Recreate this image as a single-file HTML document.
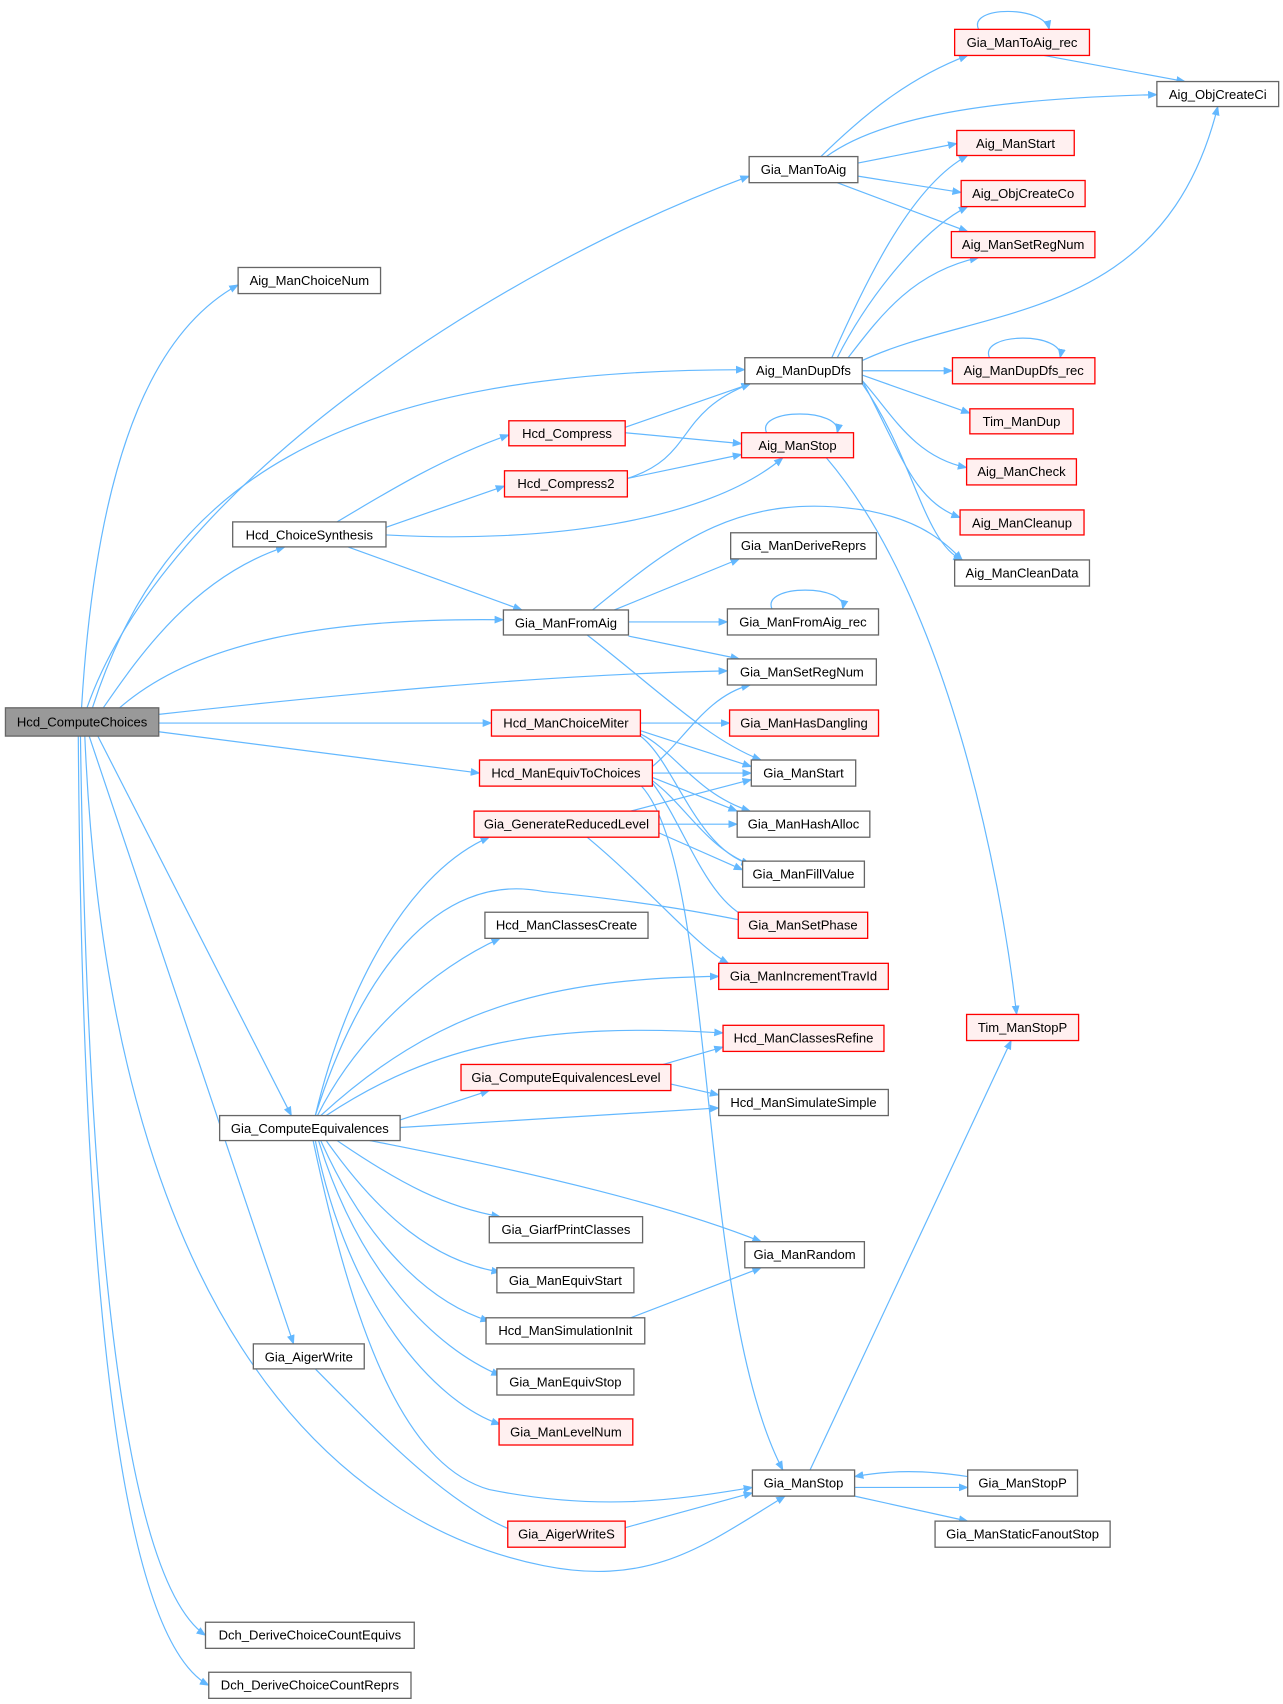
<!DOCTYPE html>
<html><head><meta charset="utf-8"><style>
html,body{margin:0;padding:0;background:#fff}
svg{display:block}
text{font-family:"Liberation Sans",Arial,sans-serif;font-size:12px;fill:#000}
.e{fill:none;stroke:#63b8ff;stroke-width:1.1}
.n{fill:#fff;stroke:#666;stroke-width:1.2}
.r{fill:#fff0f0;stroke:#ff0000;stroke-width:1.2}
</style></head><body>
<svg width="1283" height="1704" viewBox="0 0 1180 1567.2" xmlns="http://www.w3.org/2000/svg">
<defs><marker id="a" viewBox="0 0 10 10" refX="9" refY="5" markerWidth="9" markerHeight="9" orient="auto" markerUnits="userSpaceOnUse"><path d="M0,1 L10,5 L0,9 z" fill="#63b8ff"/></marker></defs>
<g marker-end="url(#a)">
<path class="e" d="M75,651 C90,400 150,300 219,262"/>
<path class="e" d="M80,651 C150,450 450,250 689,162"/>
<path class="e" d="M85,651 C150,450 300,340 685,340"/>
<path class="e" d="M95,651 C130,600 180,530 262,503"/>
<path class="e" d="M110,651 C180,590 300,568 463,570"/>
<path class="e" d="M146,657 C300,640 500,620 669,617"/>
<path class="e" d="M146,665 L452,665"/>
<path class="e" d="M146,673 L441,711"/>
<path class="e" d="M90,677 L268,1026"/>
<path class="e" d="M82,677 L270,1236"/>
<path class="e" d="M78,677 C100,1200 300,1400 500,1440 C600,1460 650,1420 722,1376"/>
<path class="e" d="M74,677 C80,1100 110,1450 189,1504"/>
<path class="e" d="M72,677 C75,1100 100,1500 192,1550"/>
<path class="e" d="M755,144 C800,100 840,70 890,51"/>
<path class="e" d="M760,144 C820,100 950,90 1064,87"/>
<path class="e" d="M789,150 L880,132"/>
<path class="e" d="M789,162 L884,177"/>
<path class="e" d="M770,168 L890,213"/>
<path class="e" d="M900,27 C890,5 960,5 965,27"/>
<path class="e" d="M960,51 L1090,75"/>
<path class="e" d="M765,329 C800,250 840,170 890,143"/>
<path class="e" d="M770,329 C800,270 850,210 890,190"/>
<path class="e" d="M780,329 C810,290 840,250 900,237"/>
<path class="e" d="M790,333 C900,280 1070,300 1120,98"/>
<path class="e" d="M793,341 L876,341"/>
<path class="e" d="M793,345 L892,380"/>
<path class="e" d="M793,350 C820,380 840,420 889,430"/>
<path class="e" d="M793,350 C830,420 840,460 883,476"/>
<path class="e" d="M793,353 C840,420 850,500 885,515"/>
<path class="e" d="M910,329 C900,305 980,305 975,329"/>
<path class="e" d="M575,393 L690,353"/>
<path class="e" d="M575,398 L682,408"/>
<path class="e" d="M577,440 C640,420 620,380 690,353"/>
<path class="e" d="M577,440 L682,418"/>
<path class="e" d="M705,398 C695,375 775,375 770,398"/>
<path class="e" d="M760,421 C870,550 920,800 935,933"/>
<path class="e" d="M310,480 C360,450 410,420 468,400"/>
<path class="e" d="M355,485 L464,447"/>
<path class="e" d="M355,492 C500,500 650,480 720,421"/>
<path class="e" d="M320,503 L480,561"/>
<path class="e" d="M545,561 C620,500 680,450 800,470 C850,480 870,500 885,515"/>
<path class="e" d="M565,561 L680,514"/>
<path class="e" d="M578,572 L669,572"/>
<path class="e" d="M578,585 L680,606"/>
<path class="e" d="M540,584 C600,630 650,680 700,699"/>
<path class="e" d="M710,560 C700,537 780,537 775,560"/>
<path class="e" d="M589,665 L671,665"/>
<path class="e" d="M589,672 L691,705"/>
<path class="e" d="M589,675 C620,690 640,730 690,746"/>
<path class="e" d="M589,677 C620,700 640,780 690,795"/>
<path class="e" d="M600,705 C630,680 650,640 690,630"/>
<path class="e" d="M600,711 L691,711"/>
<path class="e" d="M600,715 L678,746"/>
<path class="e" d="M600,718 C630,740 650,780 690,795"/>
<path class="e" d="M600,720 C630,760 650,830 690,845"/>
<path class="e" d="M590,723 C660,800 640,1200 720,1352"/>
<path class="e" d="M580,746 L691,717"/>
<path class="e" d="M606,758 L678,758"/>
<path class="e" d="M606,766 L683,800"/>
<path class="e" d="M540,770 C600,820 640,870 670,886"/>
<path class="e" d="M290,1026 C320,900 380,800 450,770"/>
<path class="e" d="M290,1026 C330,900 400,800 500,820 C600,830 650,840 690,848"/>
<path class="e" d="M292,1026 C330,950 400,890 460,863"/>
<path class="e" d="M295,1026 C400,930 500,900 661,898"/>
<path class="e" d="M300,1026 C400,960 500,940 665,950"/>
<path class="e" d="M368,1030 L450,1003"/>
<path class="e" d="M368,1037 L661,1019"/>
<path class="e" d="M610,979 L665,963"/>
<path class="e" d="M617,997 L661,1007"/>
<path class="e" d="M340,1049 C500,1080 620,1110 700,1142"/>
<path class="e" d="M310,1049 C370,1090 410,1110 460,1119"/>
<path class="e" d="M300,1049 C350,1120 400,1160 460,1170"/>
<path class="e" d="M295,1049 C340,1150 400,1200 450,1215"/>
<path class="e" d="M293,1049 C330,1170 400,1240 460,1265"/>
<path class="e" d="M290,1049 C320,1200 400,1290 460,1310"/>
<path class="e" d="M288,1049 C330,1250 380,1350 450,1370 C550,1390 620,1380 692,1368"/>
<path class="e" d="M580,1212 L700,1166"/>
<path class="e" d="M290,1259 C360,1330 420,1390 478,1410"/>
<path class="e" d="M575,1405 L692,1373"/>
<path class="e" d="M786,1368 L890,1368"/>
<path class="e" d="M890,1358 C850,1352 820,1352 786,1358"/>
<path class="e" d="M786,1376 L890,1399"/>
<path class="e" d="M745,1352 L930,957"/>
</g>
<g text-anchor="middle">
<rect x="5" y="651" width="141" height="26" fill="#999" stroke="#666" stroke-width="1.2"/><text x="75.5" y="668">Hcd_ComputeChoices</text>
<rect class="n" x="219" y="246" width="131" height="24"/><text x="284.5" y="262">Aig_ManChoiceNum</text>
<rect class="n" x="689" y="144" width="100" height="24"/><text x="739" y="160">Gia_ManToAig</text>
<rect class="r" x="878" y="27" width="124" height="24"/><text x="940" y="43">Gia_ManToAig_rec</text>
<rect class="n" x="1064" y="75" width="112" height="23"/><text x="1120" y="91">Aig_ObjCreateCi</text>
<rect class="r" x="880" y="120" width="108" height="23"/><text x="934" y="136">Aig_ManStart</text>
<rect class="r" x="884" y="166" width="114" height="24"/><text x="941" y="182">Aig_ObjCreateCo</text>
<rect class="r" x="875" y="213" width="132" height="24"/><text x="941" y="229">Aig_ManSetRegNum</text>
<rect class="n" x="685" y="329" width="108" height="24"/><text x="739" y="345">Aig_ManDupDfs</text>
<rect class="r" x="876" y="329" width="131" height="24"/><text x="941.5" y="345">Aig_ManDupDfs_rec</text>
<rect class="r" x="892" y="376" width="95" height="23"/><text x="939.5" y="392">Tim_ManDup</text>
<rect class="r" x="889" y="422" width="101" height="24"/><text x="939.5" y="438">Aig_ManCheck</text>
<rect class="r" x="883" y="469" width="114" height="23"/><text x="940" y="485">Aig_ManCleanup</text>
<rect class="n" x="878" y="515" width="124" height="24"/><text x="940" y="531">Aig_ManCleanData</text>
<rect class="r" x="468" y="387" width="107" height="23"/><text x="521.5" y="403">Hcd_Compress</text>
<rect class="r" x="464" y="433" width="113" height="24"/><text x="520.5" y="449">Hcd_Compress2</text>
<rect class="r" x="682" y="398" width="103" height="23"/><text x="733.5" y="414">Aig_ManStop</text>
<rect class="n" x="214" y="480" width="141" height="23"/><text x="284.5" y="496">Hcd_ChoiceSynthesis</text>
<rect class="n" x="672" y="490" width="134" height="24"/><text x="739" y="506">Gia_ManDeriveReprs</text>
<rect class="n" x="463" y="561" width="115" height="23"/><text x="520.5" y="577">Gia_ManFromAig</text>
<rect class="n" x="669" y="560" width="139" height="24"/><text x="738.5" y="576">Gia_ManFromAig_rec</text>
<rect class="n" x="669" y="606" width="137" height="24"/><text x="737.5" y="622">Gia_ManSetRegNum</text>
<rect class="r" x="452" y="653" width="137" height="24"/><text x="520.5" y="669">Hcd_ManChoiceMiter</text>
<rect class="r" x="671" y="653" width="137" height="24"/><text x="739.5" y="669">Gia_ManHasDangling</text>
<rect class="r" x="441" y="699" width="159" height="24"/><text x="520.5" y="715">Hcd_ManEquivToChoices</text>
<rect class="n" x="691" y="699" width="96" height="24"/><text x="739" y="715">Gia_ManStart</text>
<rect class="r" x="436" y="746" width="170" height="24"/><text x="521" y="762">Gia_GenerateReducedLevel</text>
<rect class="n" x="678" y="746" width="122" height="24"/><text x="739" y="762">Gia_ManHashAlloc</text>
<rect class="n" x="683" y="792" width="112" height="24"/><text x="739" y="808">Gia_ManFillValue</text>
<rect class="n" x="446" y="839" width="150" height="24"/><text x="521" y="855">Hcd_ManClassesCreate</text>
<rect class="r" x="679" y="839" width="119" height="24"/><text x="738.5" y="855">Gia_ManSetPhase</text>
<rect class="r" x="661" y="886" width="156" height="24"/><text x="739" y="902">Gia_ManIncrementTravId</text>
<rect class="r" x="889" y="933" width="103" height="24"/><text x="940.5" y="949">Tim_ManStopP</text>
<rect class="r" x="665" y="943" width="148" height="24"/><text x="739" y="959">Hcd_ManClassesRefine</text>
<rect class="r" x="424" y="979" width="193" height="24"/><text x="520.5" y="995">Gia_ComputeEquivalencesLevel</text>
<rect class="n" x="661" y="1002" width="156" height="24"/><text x="739" y="1018">Hcd_ManSimulateSimple</text>
<rect class="n" x="202" y="1026" width="166" height="23"/><text x="285" y="1042">Gia_ComputeEquivalences</text>
<rect class="n" x="450" y="1119" width="141" height="24"/><text x="520.5" y="1135">Gia_GiarfPrintClasses</text>
<rect class="n" x="685" y="1142" width="110" height="24"/><text x="740" y="1158">Gia_ManRandom</text>
<rect class="n" x="457" y="1166" width="126" height="23"/><text x="520" y="1182">Gia_ManEquivStart</text>
<rect class="n" x="447" y="1212" width="146" height="24"/><text x="520" y="1228">Hcd_ManSimulationInit</text>
<rect class="n" x="233" y="1236" width="102" height="23"/><text x="284" y="1252">Gia_AigerWrite</text>
<rect class="n" x="457" y="1259" width="126" height="24"/><text x="520" y="1275">Gia_ManEquivStop</text>
<rect class="r" x="459" y="1305" width="123" height="24"/><text x="520.5" y="1321">Gia_ManLevelNum</text>
<rect class="n" x="692" y="1352" width="94" height="24"/><text x="739" y="1368">Gia_ManStop</text>
<rect class="n" x="890" y="1352" width="101" height="24"/><text x="940.5" y="1368">Gia_ManStopP</text>
<rect class="r" x="467" y="1399" width="108" height="24"/><text x="521" y="1415">Gia_AigerWriteS</text>
<rect class="n" x="860" y="1399" width="161" height="24"/><text x="940.5" y="1415">Gia_ManStaticFanoutStop</text>
<rect class="n" x="189" y="1492" width="192" height="24"/><text x="285" y="1508">Dch_DeriveChoiceCountEquivs</text>
<rect class="n" x="192" y="1538" width="186" height="24"/><text x="285" y="1554">Dch_DeriveChoiceCountReprs</text>
</g>
</svg>
</body></html>
